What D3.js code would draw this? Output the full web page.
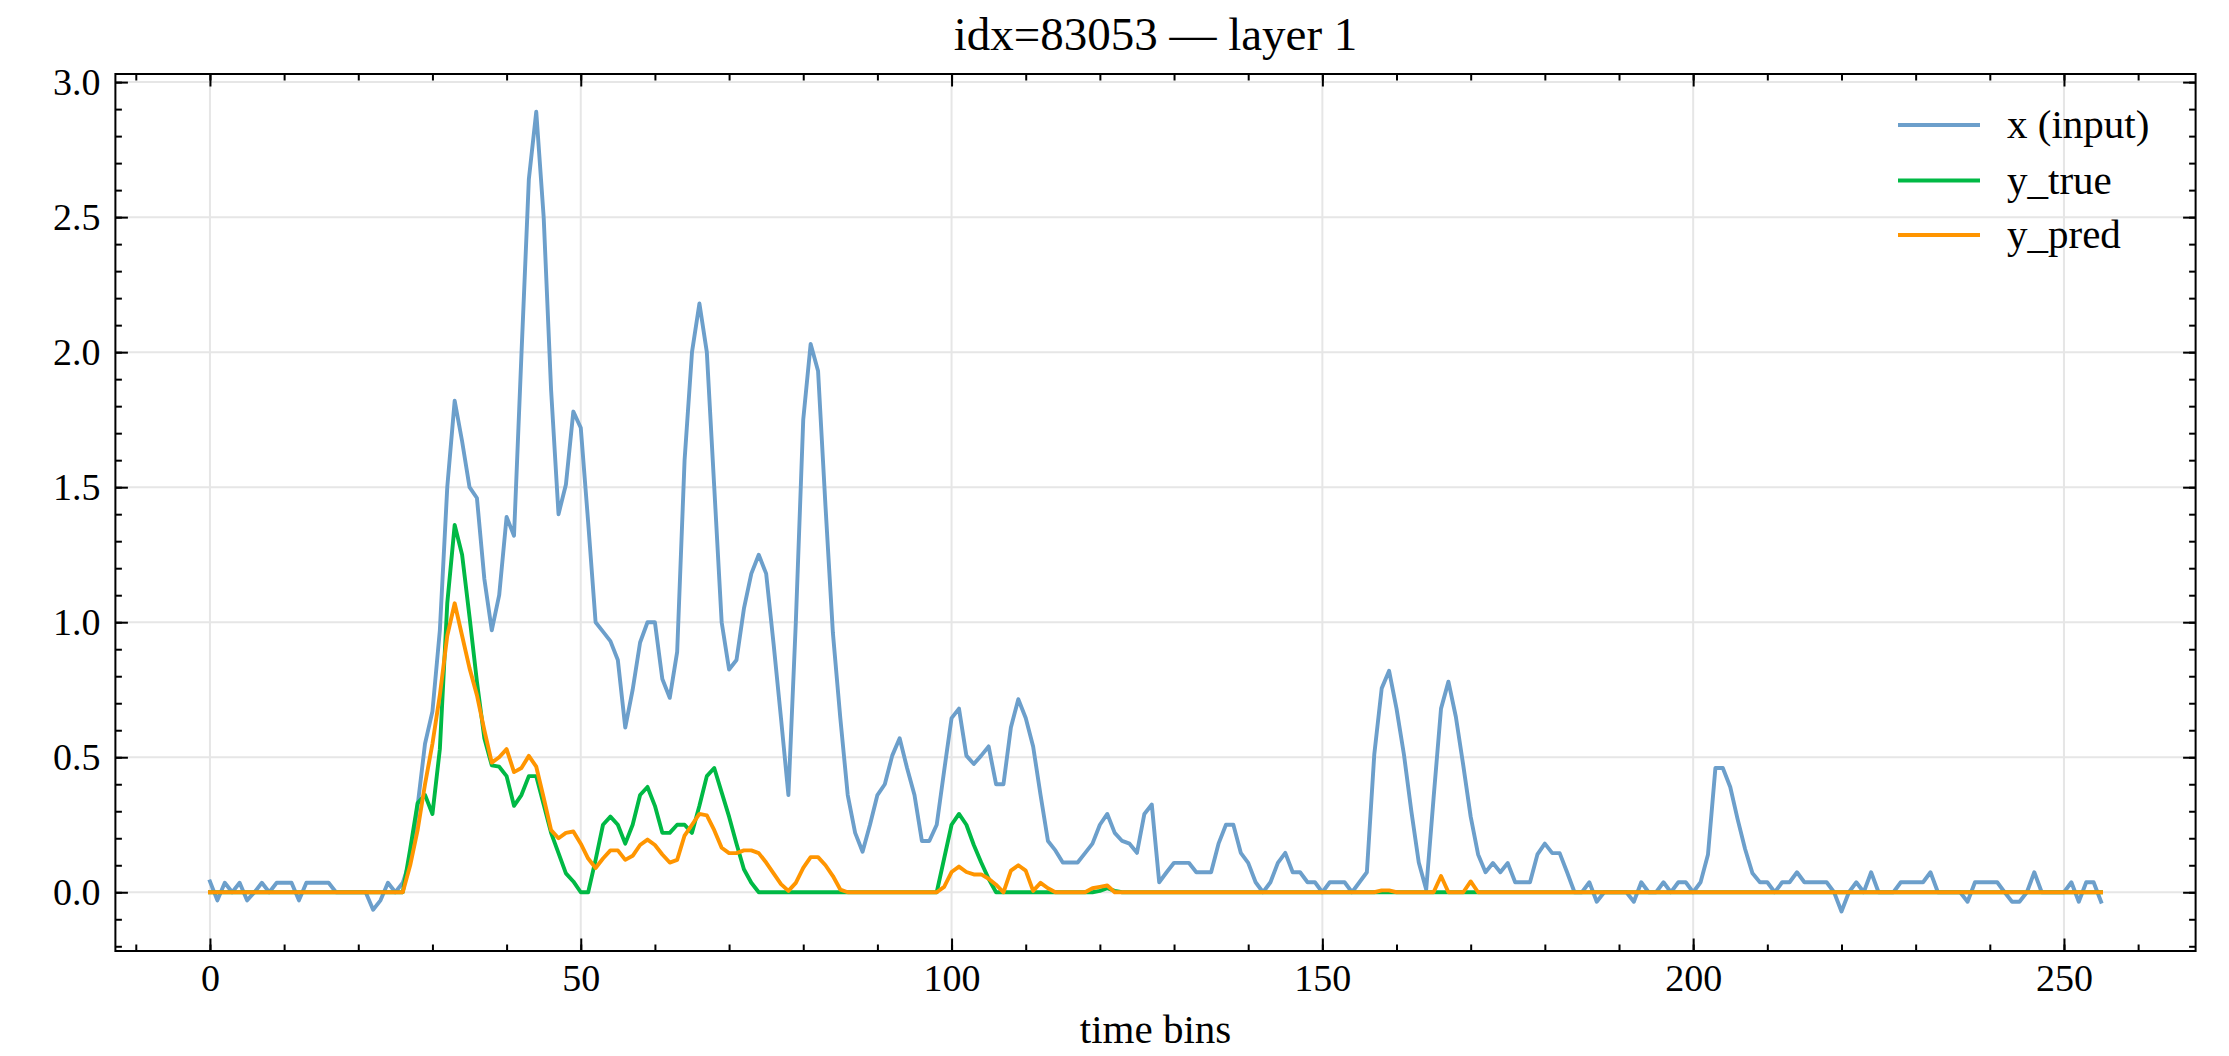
<!DOCTYPE html>
<html><head><meta charset="utf-8">
<script src="https://cdn.jsdelivr.net/npm/d3@7"></script>
<style>
body{margin:0;background:#fff}
svg{display:block}
text{font-family:"Liberation Serif","Times New Roman",serif;fill:#000}
</style>
</head><body>
<svg id="chart" width="2229" height="1056"></svg>
<script>
// ---- data ----
const xInput = [
0.04,-0.03,0.035,0,0.035,-0.03,0,0.035,0,0.035,
0.035,0.035,-0.03,0.035,0.035,0.035,0.035,0,0,0,
0,0,-0.065,-0.03,0.035,0,0.035,0.12,0.32,0.55,
0.67,0.97,1.5,1.82,1.67,1.5,1.46,1.16,0.97,1.1,
1.39,1.32,1.99,2.64,2.89,2.5,1.86,1.4,1.51,1.78,
1.72,1.37,1.0,0.965,0.93,0.86,0.61,0.75,0.925,1.0,
1.0,0.79,0.72,0.89,1.6,2.0,2.18,2.0,1.5,1.0,
0.825,0.86,1.05,1.18,1.25,1.18,0.92,0.645,0.36,1.0,
1.75,2.03,1.93,1.43,0.96,0.645,0.36,0.22,0.15,0.25,
0.36,0.4,0.506,0.57,0.46,0.36,0.19,0.19,0.25,0.45,
0.645,0.68,0.506,0.475,0.506,0.54,0.4,0.4,0.61,0.715,
0.645,0.54,0.36,0.19,0.155,0.11,0.11,0.11,0.145,0.18,
0.25,0.29,0.22,0.19,0.18,0.146,0.29,0.325,0.037,0.074,
0.109,0.109,0.109,0.074,0.074,0.074,0.18,0.25,0.25,0.146,
0.109,0.037,0,0.037,0.109,0.146,0.074,0.074,0.037,0.037,
0,0.037,0.037,0.037,0,0.037,0.074,0.51,0.755,0.82,
0.68,0.51,0.3,0.11,0.01,0.35,0.68,0.78,0.65,0.47,
0.28,0.14,0.074,0.108,0.074,0.108,0.037,0.037,0.037,0.14,
0.18,0.145,0.145,0.074,0,0,0.037,-0.035,0,0,
0,0,-0.035,0.037,0,0,0.037,0,0.037,0.037,
0,0.037,0.14,0.46,0.46,0.39,0.27,0.16,0.07,0.037,
0.037,0,0.037,0.037,0.074,0.037,0.037,0.037,0.037,0,
-0.071,0,0.037,0,0.074,0,0,0,0.037,0.037,
0.037,0.037,0.074,0,0,0,0,-0.035,0.037,0.037,
0.037,0.037,0,-0.035,-0.035,0,0.074,0,0,0,
0,0.037,-0.035,0.037,0.037,-0.035];

const yTrue = [
0,0,0,0,0,0,0,0,0,0,
0,0,0,0,0,0,0,0,0,0,
0,0,0,0,0,0,0,0.16,0.33,0.36,
0.29,0.53,1.07,1.36,1.25,1.02,0.78,0.57,0.47,0.465,
0.43,0.32,0.36,0.43,0.43,0.325,0.22,0.145,0.07,0.04,
0,0,0.12,0.25,0.28,0.25,0.18,0.25,0.36,0.39,
0.32,0.22,0.22,0.25,0.25,0.22,0.32,0.43,0.46,0.37,
0.28,0.18,0.085,0.035,0,0,0,0,0,0,
0,0,0,0,0,0,0,0,0,0,
0,0,0,0,0,0,0,0,0,0.125,
0.25,0.29,0.25,0.175,0.11,0.05,0,0,0,0,
0,0,0,0,0,0,0,0,0,0,
0.005,0.015,0.005,0,0,0,0,0,0,0,
0,0,0,0,0,0,0,0,0,0,
0,0,0,0,0,0,0,0,0,0,
0,0,0,0,0,0,0,0,0,0,
0,0,0,0,0,0,0,0,0,0,
0,0,0,0,0,0,0,0,0,0,
0,0,0,0,0,0,0,0,0,0,
0,0,0,0,0,0,0,0,0,0,
0,0,0,0,0,0,0,0,0,0,
0,0,0,0,0,0,0,0,0,0,
0,0,0,0,0,0,0,0,0,0,
0,0,0,0,0,0,0,0,0,0,
0,0,0,0,0,0,0,0,0,0,
0,0,0,0,0,0];

const yPred = [
0,0,0,0,0,0,0,0,0,0,
0,0,0,0,0,0,0,0,0,0,
0,0,0,0,0,0,0,0.10,0.23,0.40,
0.55,0.73,0.95,1.07,0.95,0.83,0.73,0.60,0.48,0.50,
0.53,0.445,0.46,0.505,0.465,0.35,0.23,0.2,0.22,0.225,
0.18,0.125,0.09,0.125,0.155,0.155,0.12,0.135,0.175,0.195,
0.175,0.14,0.11,0.12,0.21,0.25,0.29,0.285,0.23,0.165,
0.145,0.145,0.155,0.155,0.145,0.11,0.07,0.03,0.005,0.035,
0.09,0.13,0.13,0.10,0.06,0.01,0,0,0,0,
0,0,0,0,0,0,0,0,0,0.02,
0.075,0.095,0.075,0.066,0.066,0.05,0.028,0,0.08,0.10,
0.08,0.005,0.035,0.015,0,0,0,0,0,0.015,
0.02,0.025,0,0,0,0,0,0,0,0,
0,0,0,0,0,0,0,0,0,0,
0,0,0,0,0,0,0,0,0,0,
0,0,0,0,0,0,0,0,0.007,0.007,
0,0,0,0,0,0,0.06,0,0,0,
0.04,0,0,0,0,0,0,0,0,0,
0,0,0,0,0,0,0,0,0,0,
0,0,0,0,0,0,0,0,0,0,
0,0,0,0,0,0,0,0,0,0,
0,0,0,0,0,0,0,0,0,0,
0,0,0,0,0,0,0,0,0,0,
0,0,0,0,0,0,0,0,0,0,
0,0,0,0,0,0,0,0,0,0,
0,0,0,0,0,0];

const seriesNames = ["x (input)", "y_true", "y_pred"];
const seriesColors = ["#6c9fcb", "#00b945", "#ff9500"];
const xTickValues = [0, 50, 100, 150, 200, 250];
const yTickValues = [0, 0.5, 1.0, 1.5, 2.0, 2.5, 3.0];
const xMinorValues = [-10,0,10,20,30,40,50,60,70,80,90,100,110,120,130,140,150,160,170,180,190,200,210,220,230,240,250,260];
const yMinorValues = [-0.2,-0.1,0,0.1,0.2,0.3,0.4,0.5,0.6,0.7,0.8,0.9,1.0,1.1,1.2,1.3,1.4,1.5,1.6,1.7,1.8,1.9,2.0,2.1,2.2,2.3,2.4,2.5,2.6,2.7,2.8,2.9,3.0];
const titleText = "idx=83053 \u2014 layer 1";
const xLabelText = "time bins";

// ---- layout ----
const L = 115.4, R = 2195.6, T = 74, B = 951;
const svg = d3.select("#chart");
const x = d3.scaleLinear().domain([-12.75, 267.75]).range([L, R]);
const y = d3.scaleLinear().domain([-0.2175, 3.03]).range([B, T]);

// grid
const grid = svg.append("g").attr("stroke", "#e6e6e6").attr("stroke-width", 2);
grid.selectAll("line.gx").data(xTickValues).join("line")
  .attr("x1", d => x(d)).attr("x2", d => x(d)).attr("y1", T).attr("y2", B);
grid.selectAll("line.gy").data(yTickValues).join("line")
  .attr("x1", L).attr("x2", R).attr("y1", d => y(d)).attr("y2", d => y(d));

// lines
const idx = xInput.map((_, i) => i);
const data = [xInput, yTrue, yPred];
const lineGen = d3.line().x((d, i) => x(idx[i])).y(d => y(d));
svg.append("g").selectAll("path").data(data).join("path")
  .attr("d", d => lineGen(d))
  .attr("fill", "none")
  .attr("stroke", (d, i) => seriesColors[i])
  .attr("stroke-width", 3.9)
  .attr("stroke-linejoin", "round")
  .attr("stroke-linecap", "square");

// axes (ticks inside on all four sides)
function styleAxis(g) {
  g.select(".domain").remove();
  g.selectAll(".tick line").attr("stroke", "#000").attr("stroke-width", 2);
}
const fs = 38;
svg.append("g").attr("transform", `translate(0,${B})`)
  .call(d3.axisBottom(x).tickValues(xMinorValues).tickSize(-6.5).tickFormat(""))
  .call(styleAxis);
svg.append("g").attr("transform", `translate(0,${B})`)
  .call(d3.axisBottom(x).tickValues(xTickValues).tickSize(-12.5).tickPadding(13).tickFormat(d3.format("d")))
  .call(styleAxis)
  .call(g => g.selectAll("text").attr("font-size", fs).attr("font-family", "Liberation Serif"));
svg.append("g").attr("transform", `translate(0,${T})`)
  .call(d3.axisTop(x).tickValues(xMinorValues).tickSize(-6.5).tickFormat(""))
  .call(styleAxis);
svg.append("g").attr("transform", `translate(0,${T})`)
  .call(d3.axisTop(x).tickValues(xTickValues).tickSize(-12.5).tickFormat(""))
  .call(styleAxis);
svg.append("g").attr("transform", `translate(${L},0)`)
  .call(d3.axisLeft(y).tickValues(yMinorValues).tickSize(-6.5).tickFormat(""))
  .call(styleAxis);
svg.append("g").attr("transform", `translate(${L},0)`)
  .call(d3.axisLeft(y).tickValues(yTickValues).tickSize(-12.5).tickPadding(15).tickFormat(d3.format(".1f")))
  .call(styleAxis)
  .call(g => g.selectAll("text").attr("font-size", fs).attr("font-family", "Liberation Serif"));
svg.append("g").attr("transform", `translate(${R},0)`)
  .call(d3.axisRight(y).tickValues(yMinorValues).tickSize(-6.5).tickFormat(""))
  .call(styleAxis);
svg.append("g").attr("transform", `translate(${R},0)`)
  .call(d3.axisRight(y).tickValues(yTickValues).tickSize(-12.5).tickFormat(""))
  .call(styleAxis);

// frame
svg.append("rect").attr("x", L).attr("y", T).attr("width", R - L).attr("height", B - T)
  .attr("fill", "none").attr("stroke", "#000").attr("stroke-width", 2);

// title & label
svg.append("text").attr("x", (L + R) / 2).attr("y", 50).attr("text-anchor", "middle")
  .attr("font-size", 47).text(titleText);
svg.append("text").attr("x", (L + R) / 2).attr("y", 1043).attr("text-anchor", "middle")
  .attr("font-size", 41).text(xLabelText);

// legend
const lg = svg.append("g");
const legY = [125, 180.5, 235];
seriesNames.forEach((name, i) => {
  lg.append("line").attr("x1", 1898).attr("x2", 1980).attr("y1", legY[i]).attr("y2", legY[i])
    .attr("stroke", seriesColors[i]).attr("stroke-width", 3.9);
  lg.append("text").attr("x", 2007).attr("y", legY[i]).attr("dy", "0.32em")
    .attr("font-size", 41).text(name);
});
</script>
</body></html>
